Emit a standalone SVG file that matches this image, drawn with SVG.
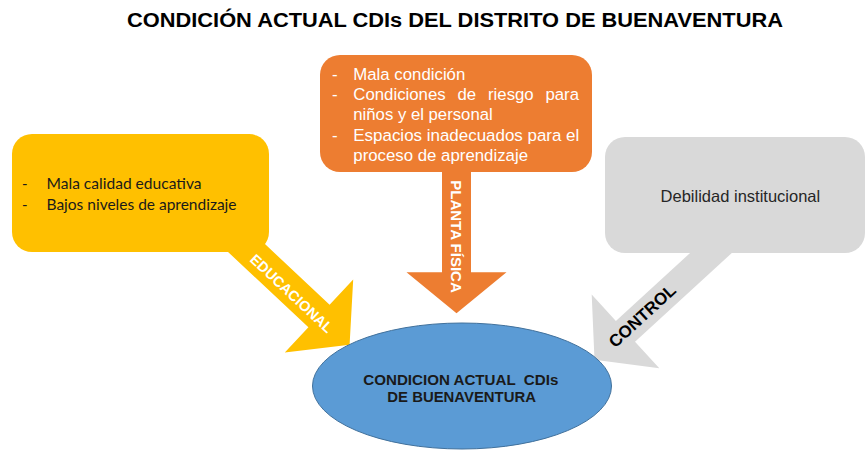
<svg xmlns="http://www.w3.org/2000/svg" width="866" height="451" viewBox="0 0 866 451">
<style>
.t{font-family:"Liberation Sans",Arial,sans-serif}
.b{font-weight:bold}
.w{fill:#ffffff}
.cal{font-family:Lato,"Open Sans","Liberation Sans",sans-serif;fill:#1a1a1a;font-size:15px}
.lbl{font-family:"Liberation Sans",Arial,sans-serif;font-weight:bold;text-anchor:middle;dominant-baseline:central}
</style>
<rect width="866" height="451" fill="#ffffff"/>
<text class="t b" x="455" y="27" font-size="20" text-anchor="middle" textLength="656" lengthAdjust="spacingAndGlyphs" fill="#000000">CONDICIÓN ACTUAL CDIs DEL DISTRITO DE BUENAVENTURA</text>

<g id="connectors">
  <g id="arrow-educacional">
    <polygon points="257,236.6 329.6,304.7 353.2,279.5 349.6,344.7 284.8,352.5 308.4,327.3 220.5,244.9" fill="#FFC000"/>
    <text class="lbl w" x="291.5" y="293.5" font-size="14.5" transform="rotate(43.2 291.5 293.5)">EDUCACIONAL</text>
  </g>
  <g id="arrow-planta">
    <polygon points="442,165 442,272.3 406.5,272.3 456.5,313.3 506.5,272.3 471,272.3 471,165" fill="#ED7D31"/>
    <text class="lbl w" x="456.5" y="236.5" font-size="15" transform="rotate(90 456.5 236.5)">PLANTA FÍSICA</text>
  </g>
  <g id="arrow-control">
    <polygon points="742.8,242.9 635,341.7 659.3,368.2 594.5,359.7 591.7,294.4 615.9,320.9 701,243" fill="#D9D9D9"/>
    <text class="lbl" x="642.5" y="316" font-size="17" fill="#000000" transform="rotate(-42.5 642.5 316)">CONTROL</text>
  </g>
</g>

<g id="node-educacional">
  <rect x="12" y="134" width="257" height="118" rx="20" fill="#FFC000"/>
  <text class="cal" x="22" y="189">-</text>
  <text class="cal" x="46.5" y="189" textLength="155" lengthAdjust="spacingAndGlyphs">Mala calidad educativa</text>
  <text class="cal" x="22" y="210">-</text>
  <text class="cal" x="46.5" y="210" textLength="190" lengthAdjust="spacingAndGlyphs">Bajos niveles de aprendizaje</text>
</g>

<g id="node-planta">
  <rect x="320" y="55" width="272" height="117" rx="20" fill="#ED7D31"/>
  <g class="t w" font-size="16.8">
    <text x="332" y="80">-</text>
    <text x="353.3" y="80" textLength="112" lengthAdjust="spacingAndGlyphs">Mala condición</text>
    <text x="332" y="100">-</text>
    <text x="353.3" y="100">Condiciones</text>
    <text x="457.5" y="100">de</text>
    <text x="488" y="100">riesgo</text>
    <text x="579" y="100" text-anchor="end">para</text>
    <text x="353.3" y="120" textLength="139.4" lengthAdjust="spacingAndGlyphs">niños y el personal</text>
    <text x="332" y="141">-</text>
    <text x="353.3" y="141" textLength="226" lengthAdjust="spacingAndGlyphs">Espacios inadecuados para el</text>
    <text x="353.3" y="161" textLength="174.7" lengthAdjust="spacingAndGlyphs">proceso de aprendizaje</text>
  </g>
</g>

<g id="node-control">
  <rect x="605" y="137" width="260" height="116" rx="20" fill="#D9D9D9"/>
  <text class="t" x="740.4" y="202" font-size="16.5" text-anchor="middle" fill="#262626">Debilidad institucional</text>
</g>

<g id="node-center">
  <ellipse cx="462" cy="386" rx="149.5" ry="63" fill="#5B9BD5" stroke="#41719C" stroke-width="1"/>
  <text class="t b" x="363.3" y="385" font-size="15" textLength="195" lengthAdjust="spacingAndGlyphs" fill="#1a1a1a" xml:space="preserve">CONDICION ACTUAL  CDIs</text>
  <text class="t b" x="387.3" y="402" font-size="15" textLength="148.7" lengthAdjust="spacingAndGlyphs" fill="#1a1a1a">DE BUENAVENTURA</text>
</g>
</svg>
